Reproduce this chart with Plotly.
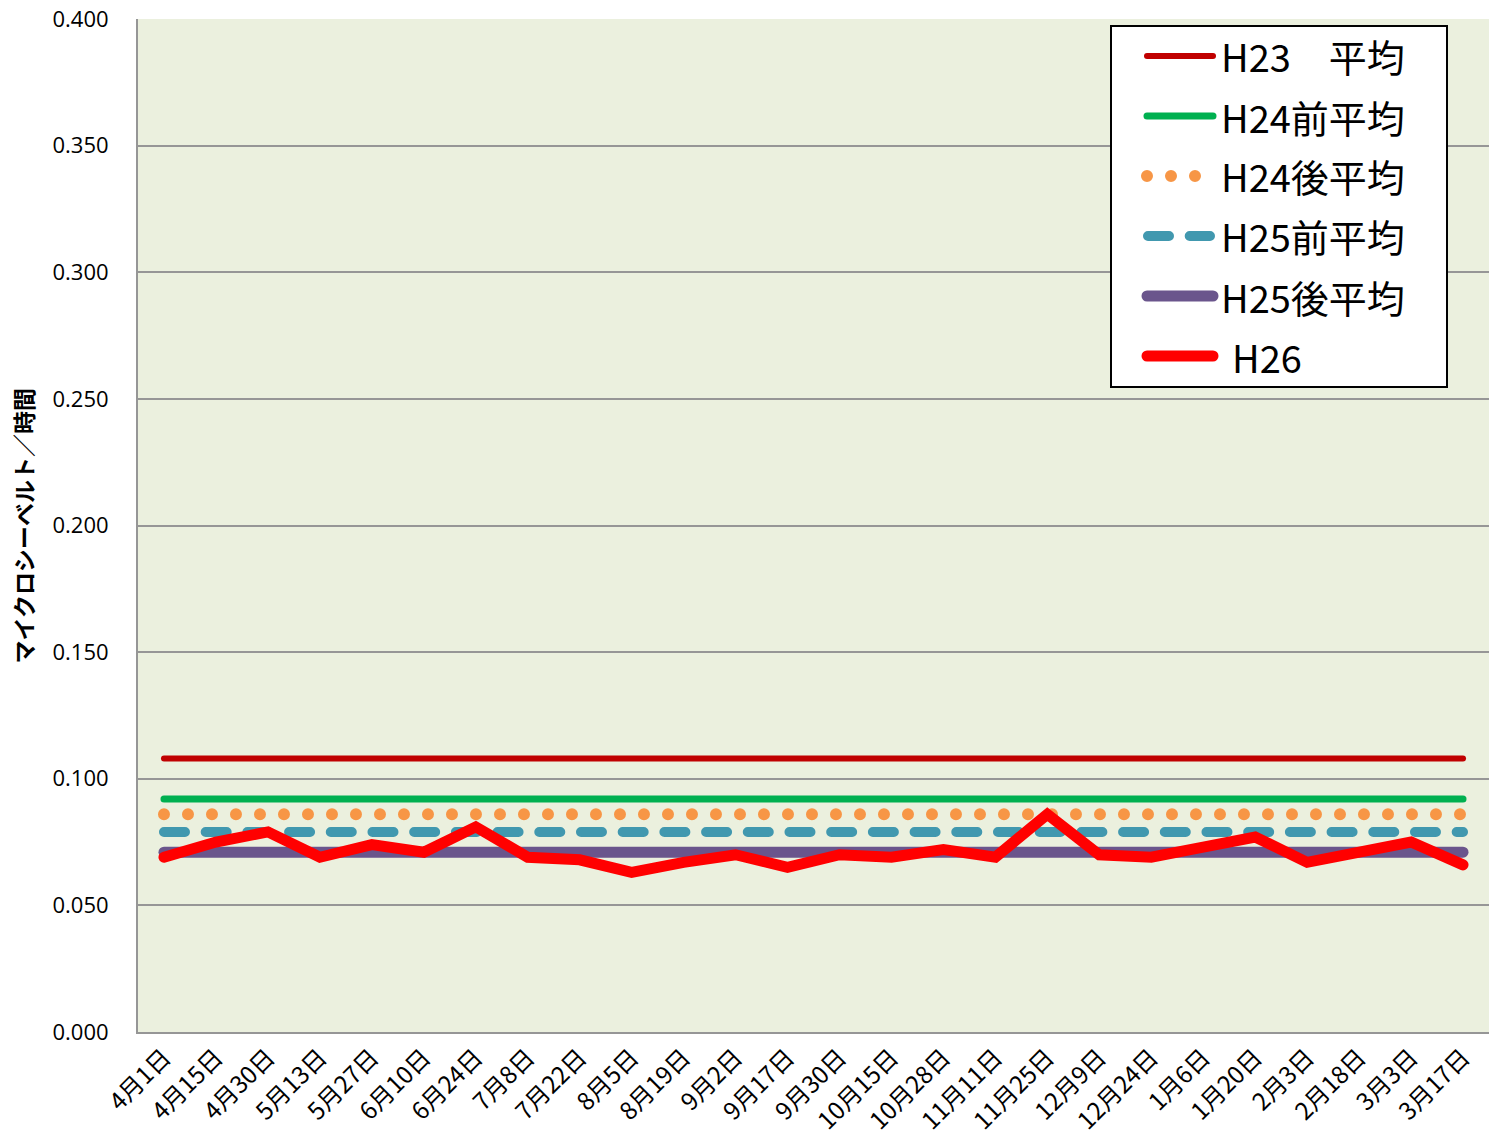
import plotly.graph_objects as go

# ---------------- data ----------------
categories = ["4月1日", "4月15日", "4月30日", "5月13日", "5月27日", "6月10日", "6月24日",
              "7月8日", "7月22日", "8月5日", "8月19日", "9月2日", "9月17日", "9月30日",
              "10月15日", "10月28日", "11月11日", "11月25日", "12月9日", "12月24日",
              "1月6日", "1月20日", "2月3日", "2月18日", "3月3日", "3月17日"]
h26_values = [0.069, 0.075, 0.079, 0.069, 0.074, 0.071, 0.081, 0.069, 0.068, 0.063,
              0.067, 0.070, 0.065, 0.070, 0.069, 0.072, 0.069, 0.086, 0.070, 0.069,
              0.073, 0.077, 0.067, 0.071, 0.075, 0.066]
avg_names = ["H23　平均", "H24前平均", "H24後平均", "H25前平均", "H25後平均"]
avg_values = [0.108, 0.092, 0.086, 0.079, 0.071]
h26_name = "H26"
y_ticks = [0.0, 0.05, 0.10, 0.15, 0.20, 0.25, 0.30, 0.35, 0.40]
y_title = "マイクロシーベルト／時間"

# ---------------- styles ----------------
avg_styles = [
    dict(color="#C00000", width=6, dash="solid"),
    dict(color="#00B050", width=7, dash="solid"),
    dict(color="#F79646", width=12, dash="0px,24px"),
    dict(color="#4198AF", width=10, dash="21px,20.7px"),
    dict(color="#6A558C", width=11, dash="solid"),
]
h26_style = dict(color="#FF0000", width=11)

W, H = 1489, 1136
ML, MR, MT, MB = 138, 0, 19, 104
PW, PH = W - ML - MR, H - MT - MB


def px_x(px):
    return (px - ML) / PW


def px_y(py):
    return 1 - (py - MT) / PH


JP = "Noto Sans CJK JP"

fig = go.Figure()
for name, val, st in zip(avg_names, avg_values, avg_styles):
    fig.add_trace(go.Scatter(x=categories, y=[val] * len(categories), mode="lines",
                             name=name, line=st, showlegend=False, hoverinfo="skip"))
fig.add_trace(go.Scatter(x=categories, y=h26_values, mode="lines", name=h26_name,
                         line=h26_style, showlegend=False))

# ---------------- custom legend ----------------
shapes = [dict(type="rect", xref="paper", yref="paper",
               x0=px_x(1111), x1=px_x(1447), y0=px_y(26), y1=px_y(387),
               fillcolor="white", line=dict(color="black", width=2), layer="above")]
annotations = []
legend_rows = list(zip(avg_names, avg_styles)) + [(h26_name, dict(h26_style, dash="solid"))]
sample_x = {
    "solid": (1147, 1213),
    "0px,24px": (1147, 1196),
    "21px,20.7px": (1148, 1210),
}
for i, (name, st) in enumerate(legend_rows):
    cy = 56 + 60 * i
    x0, x1 = sample_x.get(st["dash"], (1147, 1213))
    shapes.append(dict(type="line", xref="paper", yref="paper",
                       x0=px_x(x0), x1=px_x(x1), y0=px_y(cy), y1=px_y(cy),
                       line=dict(color=st["color"], width=st["width"], dash=st["dash"]),
                       layer="above"))
    tx = 1230 if name == h26_name else 1219
    annotations.append(dict(xref="paper", yref="paper", x=px_x(tx), y=px_y(cy),
                            xanchor="left", yanchor="middle", showarrow=False,
                            text=name, font=dict(family=JP, size=38, color="black")))

annotations.append(dict(xref="paper", yref="paper", x=px_x(22), y=0.5,
                        xanchor="center", yanchor="middle", showarrow=False,
                        textangle=-90, text="<b>" + y_title + "</b>",
                        font=dict(family=JP, size=23, color="black")))

fig.update_layout(
    width=W, height=H,
    margin=dict(l=ML, r=MR, t=MT, b=MB, pad=0),
    paper_bgcolor="white",
    plot_bgcolor="#EBF0DE",
    showlegend=False,
    shapes=shapes,
    annotations=annotations,
    xaxis=dict(type="category", categoryorder="array", categoryarray=categories,
               range=[-0.5, len(categories) - 0.5],
               tickangle=-45, showgrid=False, showline=True, linecolor="#969696",
               linewidth=2, ticks="", automargin=False,
               tickfont=dict(family=JP, size=24, color="black")),
    yaxis=dict(range=[0, 0.4], tickvals=y_ticks, tickformat=".3f",
               showgrid=True, gridcolor="#969696", gridwidth=2,
               showline=True, linecolor="#969696", linewidth=2,
               zeroline=False, ticks="", automargin=False, ticklabelstandoff=23,
               tickfont=dict(family="Open Sans", size=22, color="black")),
)

post_js = """
var st = document.createElement('style');
st.textContent = 'html, body {margin:0 !important; padding:0 !important; overflow:hidden;} .scatterlayer path.js-line, .shapelayer path {stroke-linecap: round !important;}';
document.head.appendChild(st);
"""
fig.write_html("out.html", post_script=post_js, config={"displayModeBar": False})
